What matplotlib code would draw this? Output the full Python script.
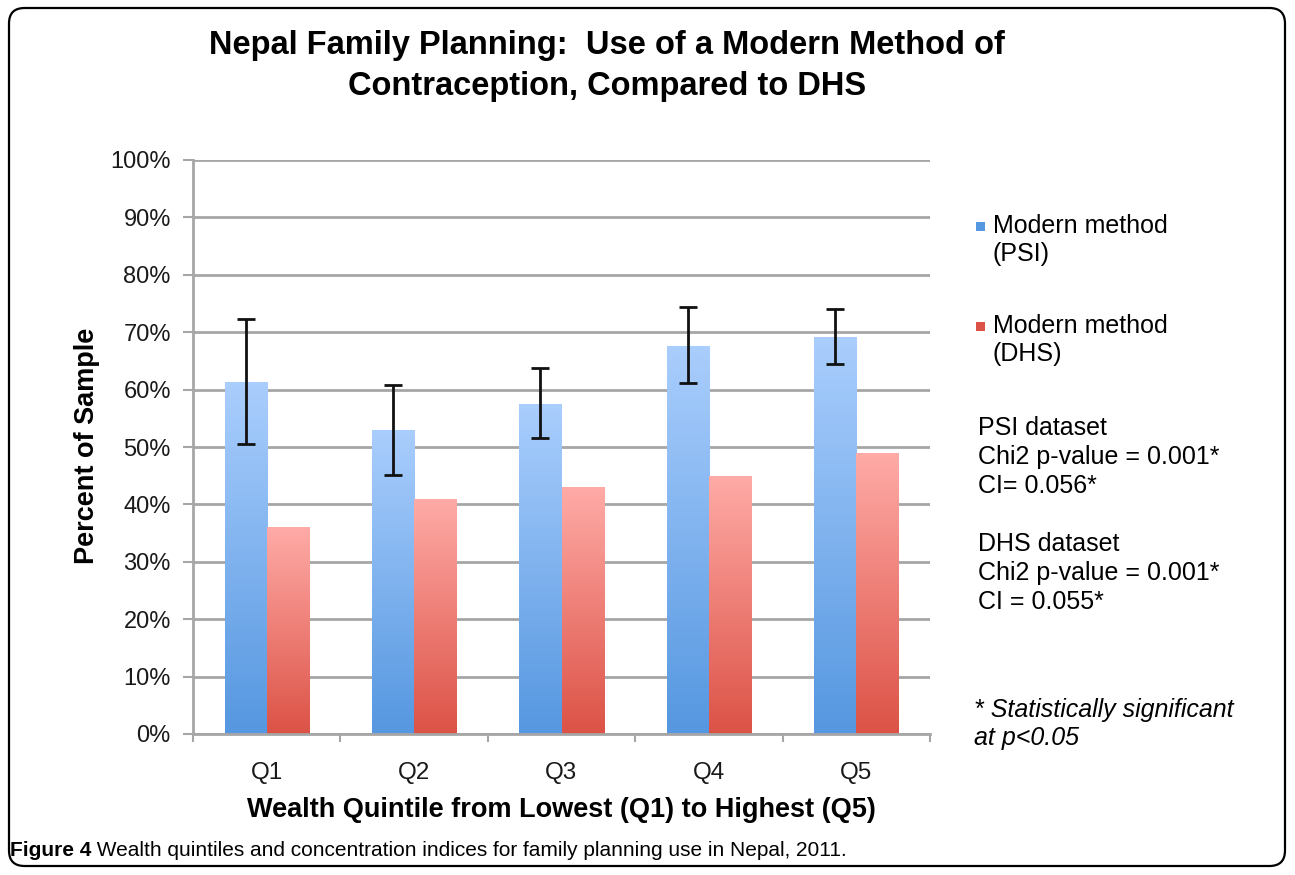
import matplotlib
matplotlib.use("Agg")
import matplotlib.pyplot as plt
import numpy as np
from matplotlib.patches import FancyBboxPatch, Rectangle
from matplotlib import font_manager
from matplotlib.colors import LinearSegmentedColormap

# ---------------- data ----------------
categories = ["Q1", "Q2", "Q3", "Q4", "Q5"]
psi_values = [61.3, 53.0, 57.5, 67.6, 69.2]
psi_err_low = [50.5, 45.1, 51.6, 61.1, 64.5]
psi_err_high = [72.3, 60.8, 63.8, 74.4, 74.0]
dhs_values = [36.0, 41.0, 43.0, 45.0, 49.0]
y_ticks = [0, 10, 20, 30, 40, 50, 60, 70, 80, 90, 100]
series_labels = ["Modern method\n(PSI)", "Modern method\n(DHS)"]
title_text = "Nepal Family Planning:  Use of a Modern Method of\nContraception, Compared to DHS"
x_label = "Wealth Quintile from Lowest (Q1) to Highest (Q5)"
y_label = "Percent of Sample"
psi_note = "PSI dataset\nChi2 p-value = 0.001*\nCI= 0.056*"
dhs_note = "DHS dataset\nChi2 p-value = 0.001*\nCI = 0.055*"
sig_note = "* Statistically significant\nat p<0.05"
caption_bold = "Figure 4"
caption_rest = " Wealth quintiles and concentration indices for family planning use in Nepal, 2011."

available = {f.name for f in font_manager.fontManager.ttflist}
main_font = "Liberation Sans" if "Liberation Sans" in available else "DejaVu Sans"
cap_font = "Liberation Sans Narrow" if "Liberation Sans Narrow" in available else main_font
plt.rcParams["font.family"] = [main_font, "DejaVu Sans"]

psi_top, psi_bot = "#aacefd", "#5597e0"
dhs_top, dhs_bot = "#ffaba7", "#dc5246"
grid_col = "#a6a6a6"

fig = plt.figure(figsize=(12.95, 8.75), dpi=100)
ax = fig.add_axes([193 / 1295, 1 - 734 / 875, (930 - 193) / 1295, (734 - 160) / 875])

x = np.arange(len(categories))
w = 0.285

def gradient_bars(xpos, vals, ctop, cbot):
    bars = ax.bar(xpos, vals, width=w, color=cbot, zorder=2, linewidth=0)
    cmap = LinearSegmentedColormap.from_list("g", [cbot, ctop])
    grad = np.linspace(0, 1, 256).reshape(-1, 1)
    for b in bars:
        x0, y0 = b.get_x(), b.get_y()
        x1, y1 = x0 + b.get_width(), y0 + b.get_height()
        im = ax.imshow(grad, cmap=cmap, origin="lower", aspect="auto",
                       extent=[x0, x1, y0, y1], zorder=2.1)
        im.set_clip_path(b)
    return bars

gradient_bars(x - w / 2, psi_values, psi_top, psi_bot)
gradient_bars(x + w / 2, dhs_values, dhs_top, dhs_bot)

lower = np.array(psi_values) - np.array(psi_err_low)
upper = np.array(psi_err_high) - np.array(psi_values)
ax.errorbar(x - w / 2, psi_values, yerr=[lower, upper], fmt="none",
            ecolor="#111111", elinewidth=2, capsize=6.5, capthick=2, zorder=4)

ax.set_xlim(-0.5, len(categories) - 0.5)
ax.set_ylim(0, 100)
ax.set_yticks(y_ticks)
ax.set_yticklabels([f"{t}%" for t in y_ticks], fontsize=17, color="#1a1a1a")
ax.set_xticks(x)
ax.set_xticklabels(categories, fontsize=17.5, color="#1a1a1a")
ax.set_xticks(np.arange(len(categories) + 1) - 0.5, minor=True)
ax.tick_params(axis="x", which="major", length=0, pad=20)
ax.tick_params(axis="x", which="minor", length=6, width=1.5, color=grid_col)
ax.tick_params(axis="y", length=7, width=1.5, color=grid_col, pad=9)
ax.yaxis.grid(True, color=grid_col, linewidth=2, zorder=0)
ax.set_axisbelow(True)
for s in ["top", "right"]:
    ax.spines[s].set_visible(False)
for s in ["left", "bottom"]:
    ax.spines[s].set_color(grid_col)
    ax.spines[s].set_linewidth(2)

fig.text(87 / 1295, 1 - 446 / 875, y_label, rotation=90, ha="center", va="center",
         fontsize=19.5, fontweight="bold")
fig.text(561 / 1295, 1 - 810 / 875, x_label, ha="center", va="center",
         fontsize=19.5, fontweight="bold")
fig.text(607 / 1295, 1 - 66 / 875, title_text, ha="center", va="center",
         fontsize=23.5, fontweight="bold", linespacing=1.38)

# legend
for i, (lab, col) in enumerate(zip(series_labels, [psi_bot, dhs_bot])):
    yy = 226 + i * 100
    fig.patches.append(Rectangle((976 / 1295, 1 - (yy + 5) / 875), 9 / 1295, 9 / 875,
                                 transform=fig.transFigure, facecolor=col, edgecolor="none"))
    fig.text(993 / 1295, 1 - (yy + 14) / 875, lab, ha="left", va="center", fontsize=18,
             linespacing=1.25)

fig.text(978 / 1295, 1 - 457 / 875, psi_note, ha="left", va="center", fontsize=18, linespacing=1.25)
fig.text(978 / 1295, 1 - 573 / 875, dhs_note, ha="left", va="center", fontsize=18, linespacing=1.25)
fig.text(974 / 1295, 1 - 724 / 875, sig_note, ha="left", va="center", fontsize=18,
         style="italic", linespacing=1.25)

# caption
t1 = fig.text(10 / 1295, 1 - 851 / 875, caption_bold, ha="left", va="center",
              fontsize=15, fontweight="bold", family=[cap_font, "DejaVu Sans"])
ann = plt.annotate(caption_rest, xy=(1, 0.5), xycoords=t1, va="center", ha="left",
                   fontsize=15, family=[cap_font, "DejaVu Sans"], annotation_clip=False)

# rounded border
border = FancyBboxPatch((9 / 1295, 9 / 875), 1276 / 1295, 858 / 875,
                        boxstyle="round,pad=0,rounding_size=0.012",
                        transform=fig.transFigure, facecolor="none",
                        edgecolor="black", linewidth=1.6, mutation_aspect=1295 / 875)
fig.patches.append(border)

fig.savefig("out.png", dpi=100, facecolor="white")
